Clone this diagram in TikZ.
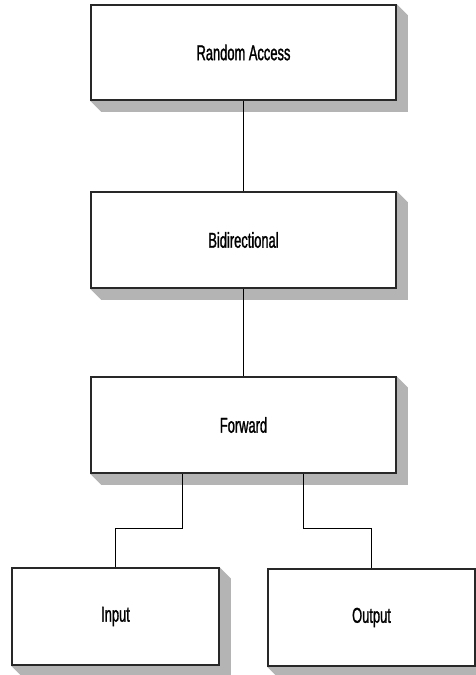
\documentclass[tikz,border=0pt]{standalone}
\usepackage{fontspec}
\usetikzlibrary{backgrounds}
\newfontfamily\boxfont[FakeStretch=0.6, FakeBold=1.2]{Liberation Sans}
\definecolor{shadegray}{RGB}{180,180,180}
\definecolor{edgegray}{RGB}{40,40,40}
\tikzset{
  lvl/.style={draw=edgegray, line width=1.5pt, fill=white, inner sep=0pt,
              minimum width=305pt, minimum height=96pt,
              font=\boxfont\fontsize{21.5}{25}\selectfont},
  leaf/.style={lvl, minimum width=207pt, minimum height=97pt},
  link/.style={black, line width=1pt},
  shd/.style={fill=shadegray},
}
\newcommand{\boxshade}[1]{%
  \fill[shd] (#1.south west) -- ++(11pt,-11pt) -| ([xshift=11pt,yshift=-11pt]#1.north east)
    -- (#1.north east) -- cycle;}

\begin{document}
\begin{tikzpicture}[x=1pt, y=1pt]
    \useasboundingbox (0,0) rectangle (476,-675);
    \node[lvl, minimum height=95pt] (ra) at (243.5,-52.5) {Random Access};
    \node[lvl] (bi) at (243.5,-240) {Bidirectional};
    \node[lvl] (fw) at (243.5,-425) {Forward};
    \node[leaf] (in) at (115.5,-616.5) {Input};
    \node[leaf] (out) at (371.5,-617.5) {Output};
    \begin{scope}[on background layer]
      \boxshade{ra} \boxshade{bi} \boxshade{fw}
      \boxshade{in} \boxshade{out}
    \end{scope}
    \draw[link] (ra) -- (bi);
    \draw[link] (bi) -- (fw);
    \draw[link] ([xshift=-61.5pt]fw.south) -- ++(0,-55) -| (in.north);
    \draw[link] ([xshift=59.5pt]fw.south) -- ++(0,-55) -| (out.north);
  \end{tikzpicture}
\end{document}
